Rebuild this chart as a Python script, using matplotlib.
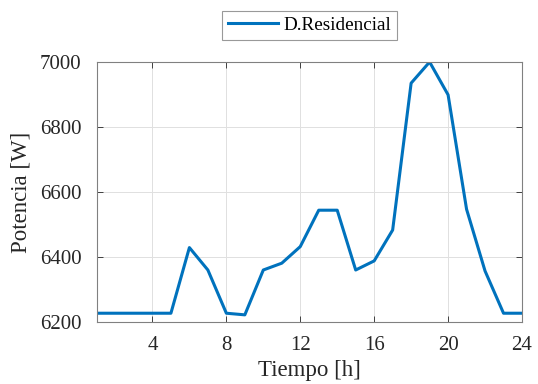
import matplotlib

matplotlib.use("Agg")

import matplotlib.pyplot as plt

hours = list(range(1, 25))
power_w = [6227, 6227, 6227, 6227, 6227, 6429, 6360, 6227, 6222, 6360,
           6381, 6432, 6544, 6544, 6360, 6388, 6483, 6935, 7000, 6899,
           6547, 6357, 6227, 6227]
x_ticks = [4, 8, 12, 16, 20, 24]
y_ticks = [6200, 6400, 6600, 6800, 7000]

plt.rcParams["font.family"] = ["Liberation Serif", "DejaVu Serif"]

fig = plt.figure(figsize=(5.38, 3.84), dpi=100)
ax = fig.add_axes([97 / 538, 1 - 322 / 384, 425 / 538, 260 / 384])

line, = ax.plot(hours, power_w, color="#0072BD", linewidth=2.2, label="D.Residencial")

ax.set_xlim(1, 24)
ax.set_ylim(6200, 7000)
ax.set_xticks(x_ticks)
ax.set_yticks(y_ticks)
ax.tick_params(direction="in", length=4, width=0.6, colors="#262626",
               labelsize=15, top=True, right=True)
ax.tick_params(axis="y", pad=11)
ax.tick_params(axis="x", pad=10)
for sp in ax.spines.values():
    sp.set_color("#808080")
    sp.set_linewidth(0.8)
ax.grid(True, color="#e0e0e0", linewidth=0.7)
ax.set_axisbelow(True)

ax.set_xlabel("Tiempo [h]", fontsize=16.5, color="#262626", labelpad=4)
ax.set_ylabel("Potencia [W]", fontsize=16.5, color="#262626", labelpad=6)

leg = fig.legend(handles=[line], loc="center", bbox_to_anchor=(309.5 / 538, 1 - 25.5 / 384),
                 fontsize=13.8, frameon=True, fancybox=False, handlelength=2.6,
                 borderpad=0.3, handletextpad=0.3)
leg.get_frame().set_edgecolor("#808080")
leg.get_frame().set_linewidth(0.8)

fig.savefig("out.png", dpi=100)
